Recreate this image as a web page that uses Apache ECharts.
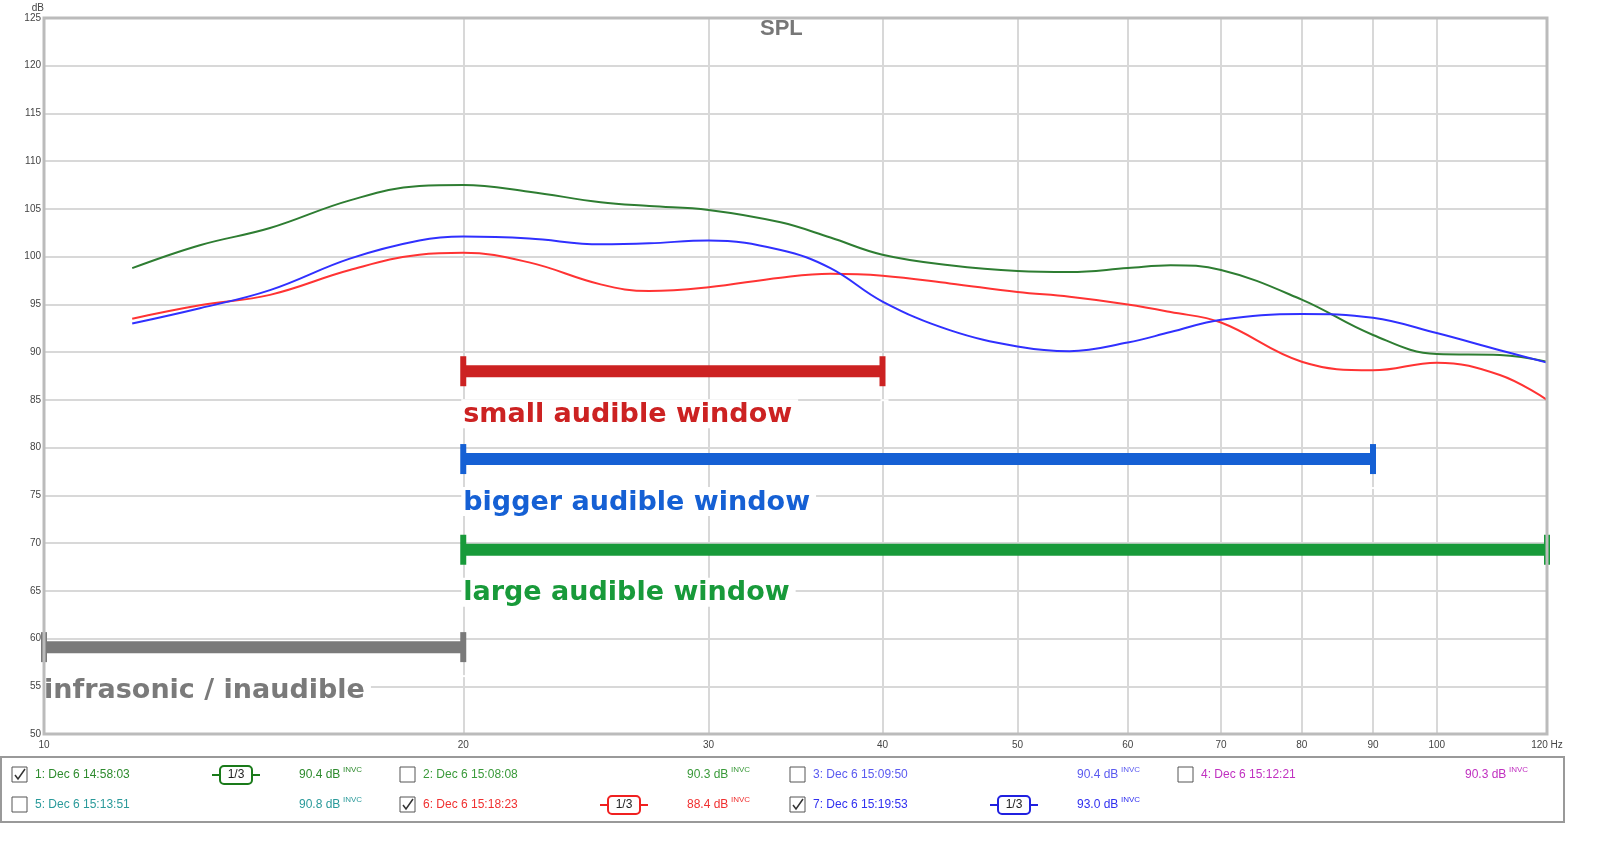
<!DOCTYPE html>
<html><head><meta charset="utf-8">
<script src="https://cdn.jsdelivr.net/npm/echarts@6/dist/echarts.min.js"></script>
<style>html,body{margin:0;background:#fff}#c{width:1600px;height:842px}</style>
</head><body><div id="c"></div>
<script>
const freqs = [11.57,12.94,14.53,16.58,18.6,20,22.3,25.1,27.2,30,33.8,36.7,40,44.7,50,54.5,60,64.4,70,80,90,100,111,120];
const green = [98.8,101.2,103.0,105.9,107.4,107.5,106.8,105.7,105.3,104.9,103.6,102.0,100.2,99.1,98.5,98.4,98.8,99.1,98.6,95.5,91.8,89.8,89.7,89.0];
const red   = [93.5,94.9,96.0,98.6,100.2,100.4,99.4,97.1,96.4,96.8,97.8,98.2,98.0,97.2,96.3,95.8,95.0,94.2,93.1,89.0,88.1,88.9,87.6,85.0];
const blue  = [93.0,94.6,96.5,99.8,101.7,102.1,101.9,101.3,101.4,101.7,100.7,98.8,95.3,92.3,90.6,90.1,91.0,92.1,93.4,94.0,93.6,92.0,90.2,88.9];
const xTicks = [10,20,30,40,50,60,70,80,90,100,120];
const bands = [
  {name:'small audible window', from:20, to:40, y:88, color:'#cc2222'},
  {name:'bigger audible window', from:20, to:90, y:78.8, color:'#1560d4'},
  {name:'large audible window', from:20, to:120, y:69.3, color:'#189a3a'},
  {name:'infrasonic / inaudible', from:10, to:20, y:59.1, color:'#7a7a7a'}
];
const legendRows = [
  [{t:'1: Dec 6 14:58:03',c:'#2e8b2e',chk:true,oct:'#1a7a1a',v:'90.4'},{t:'2: Dec 6 15:08:08',c:'#3a9a3a',chk:false,v:'90.3'},{t:'3: Dec 6 15:09:50',c:'#5a5af0',chk:false,v:'90.4'},{t:'4: Dec 6 15:12:21',c:'#c030c0',chk:false,v:'90.3'}],
  [{t:'5: Dec 6 15:13:51',c:'#2a9a9a',chk:false,v:'90.8'},{t:'6: Dec 6 15:18:23',c:'#f03030',chk:true,oct:'#f02020',v:'88.4'},{t:'7: Dec 6 15:19:53',c:'#3030f0',chk:true,oct:'#2020e0',v:'93.0'}]
];
const L = Math.log10;
const toPts = arr => freqs.map((f,i)=>[L(f),arr[i]]);
const series = [
  {type:'line',data:toPts(green),smooth:0.4,showSymbol:false,lineStyle:{color:'#2e7d32',width:2},z:3},
  {type:'line',data:toPts(red),smooth:0.4,showSymbol:false,lineStyle:{color:'#ff3333',width:2},z:3},
  {type:'line',data:toPts(blue),smooth:0.4,showSymbol:false,lineStyle:{color:'#3030ff',width:2},z:3}
];
bands.forEach(b=>{
  series.push({type:'line',data:[[L(b.from),b.y],[L(b.to),b.y]],symbol:'rect',symbolSize:[6,30],showSymbol:true,
    itemStyle:{color:b.color},lineStyle:{color:b.color,width:12},z:5,silent:true,
    label:{show:true,formatter:p=>p.dataIndex===0?b.name:'',position:'bottom',align:'left',offset:[-2,8],
      color:b.color,fontFamily:'DejaVu Sans',fontWeight:'bold',fontSize:27,backgroundColor:'#fff',padding:[2,6,0,2]}});
});
const graphic = [
  {type:'rect',shape:{x:1,y:757,width:1563,height:65},style:{fill:'none',stroke:'#999',lineWidth:2}},
  {type:'text',left:760,top:18,style:{text:'SPL',fill:'#777',font:'bold 22px "Liberation Sans"'}}
];
const colX=[12,400,790,1178];
legendRows.forEach((row,ri)=>{
  const y = ri===0?775:805;
  row.forEach((it,ci)=>{
    const x=colX[ci];
    graphic.push({type:'rect',shape:{x:x,y:y-8,width:15,height:15},style:{fill:'#fff',stroke:'#555',lineWidth:1}});
    if(it.chk) graphic.push({type:'polyline',shape:{points:[[x+3,y],[x+6,y+4],[x+13,y-6]]},style:{stroke:'#333',lineWidth:1.5,fill:'none'}});
    graphic.push({type:'text',x:x+23,y:y,style:{text:it.t,fill:it.c,font:'12px "Liberation Sans"',verticalAlign:'middle'}});
    if(it.oct){
      graphic.push({type:'line',shape:{x1:x+200,y1:y,x2:x+248,y2:y},style:{stroke:it.oct,lineWidth:2}});
      graphic.push({type:'rect',shape:{x:x+208,y:y-9,width:32,height:18,r:4},style:{fill:'#fff',stroke:it.oct,lineWidth:2}});
      graphic.push({type:'text',x:x+224,y:y,style:{text:'1/3',fill:'#222',font:'12px "Liberation Sans"',align:'center',verticalAlign:'middle'}});
    }
    graphic.push({type:'text',x:x+287,y:y,style:{text:it.v+' dB',fill:it.c,font:'12px "Liberation Sans"',verticalAlign:'middle'}});
    graphic.push({type:'text',x:x+331,y:y-5,style:{text:'INVC',fill:it.c,font:'8px "Liberation Sans"',verticalAlign:'middle'}});
  });
});
const chart = echarts.init(document.getElementById('c'));
chart.setOption({
  animation:false,
  grid:{left:44,right:53,top:18,bottom:108},
  xAxis:{type:'value',min:1,max:L(120),
    axisLine:{show:false},
    axisTick:{show:false,customValues:xTicks.map(L)},
    axisLabel:{customValues:xTicks.map(L),color:'#444',fontSize:10,fontFamily:'Liberation Sans',margin:6,
      formatter:v=>{const f=Math.round(Math.pow(10,v));return f===120?'120 Hz':String(f);}},
    splitLine:{show:true,lineStyle:{color:'#d8d8d8',width:2}}},
  yAxis:{type:'value',min:50,max:125,interval:5,name:'dB',nameGap:4,nameTextStyle:{color:'#444',fontSize:10,align:'right'},
    axisLine:{show:false},axisTick:{show:false},
    axisLabel:{color:'#444',fontSize:10,fontFamily:'Liberation Sans',margin:3},
    splitLine:{lineStyle:{color:'#d8d8d8',width:2}}},
  series:series,
  graphic:[{type:'rect',shape:{x:44,y:18,width:1503,height:716},style:{fill:'none',stroke:'#bbb',lineWidth:3},z:10}].concat(graphic)
});
</script></body></html>
